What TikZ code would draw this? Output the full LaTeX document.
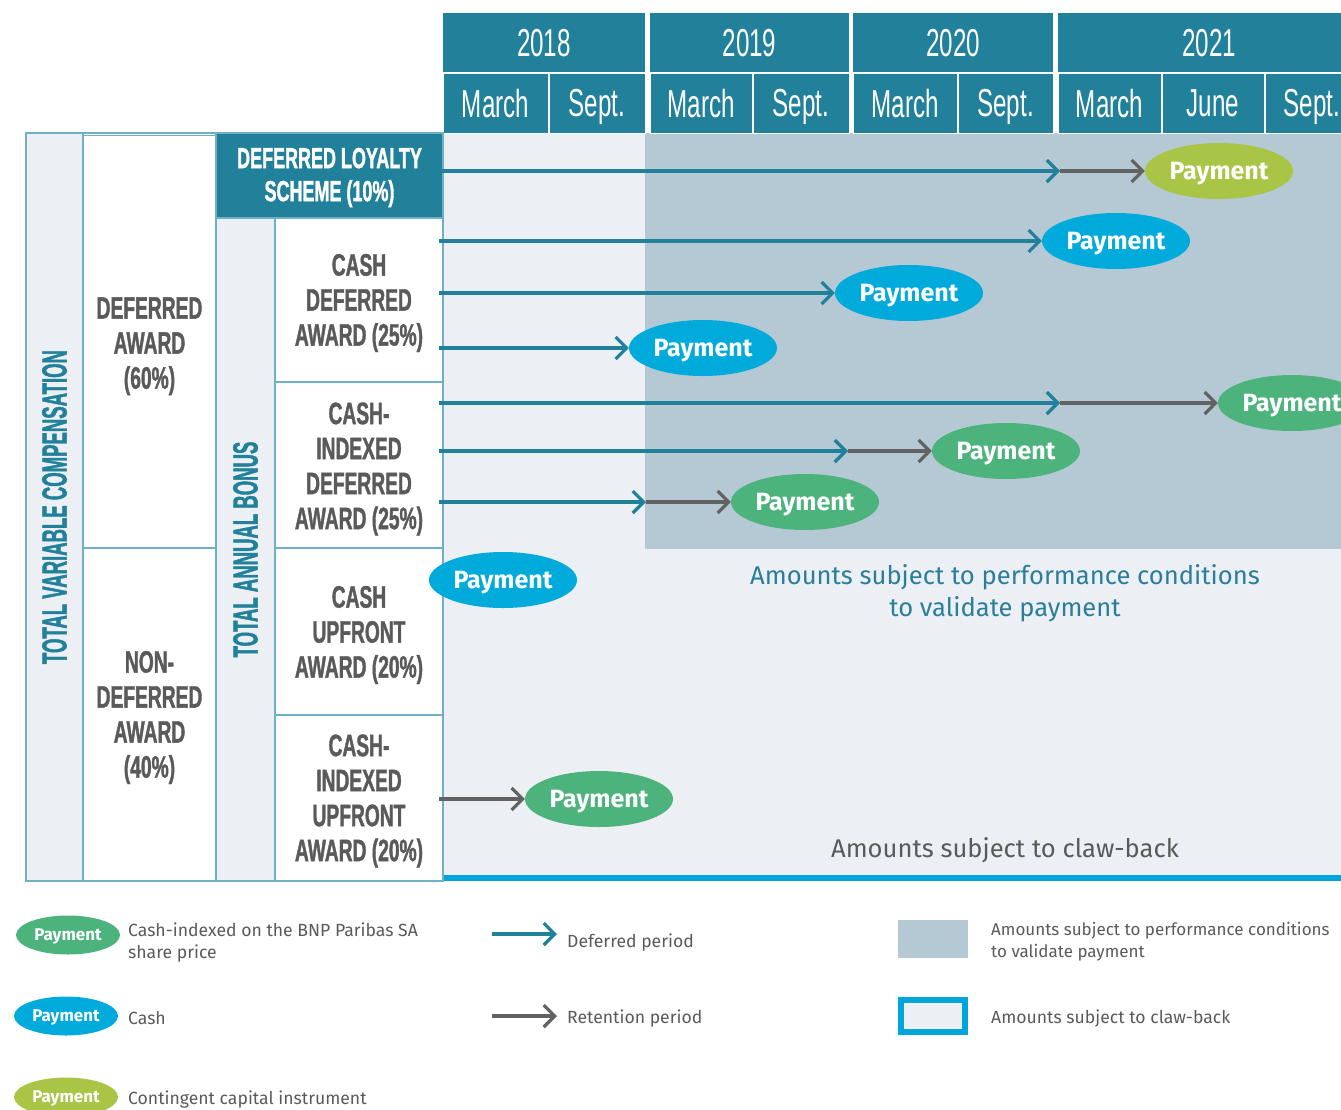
\documentclass[tikz,border=0pt]{standalone}
\usepackage{fontspec}
\setmainfont{Fira Sans}
\newfontfamily\condR[FakeStretch=0.62]{Liberation Sans}
\newfontfamily\condB[FakeStretch=0.62,FakeBold=1.2]{Liberation Sans Bold}
\newfontfamily\condBB[FakeStretch=0.53,FakeBold=1.2]{Liberation Sans Bold}
\usetikzlibrary{shapes.geometric,arrows.meta}
\definecolor{hdr}{HTML}{21819A}
\definecolor{lightbg}{HTML}{ECEFF4}
\definecolor{perfbg}{HTML}{B5C9D4}
\definecolor{cashblue}{HTML}{00AADB}
\definecolor{idxgreen}{HTML}{4BB37B}
\definecolor{cocolime}{HTML}{A8C545}
\definecolor{labgrey}{HTML}{5A5A5A}
\definecolor{bordercol}{HTML}{6FB0C4}
\definecolor{clawblue}{HTML}{00A6DB}
\definecolor{retgrey}{HTML}{626262}
\definecolor{perftext}{HTML}{2A7E9C}
\begin{document}
\begin{tikzpicture}[x=1pt,y=-1pt,
  yearcell/.style={rectangle, fill=hdr, text=white, inner sep=0pt, minimum height=60pt,
    text depth=0pt, font=\condR\fontsize{39}{39}\selectfont},
  monthcell/.style={yearcell, draw=white, line width=1pt},
  tabcell/.style={rectangle, draw=bordercol, line width=1.5pt, fill=white, inner sep=0pt,
    align=center, text=labgrey, font=\condB\fontsize{31}{35}\selectfont},
  sidecell/.style={tabcell, fill=lightbg, text=hdr, font=\condBB\fontsize{35}{35}\selectfont},
  pay/.style={ellipse, inner sep=0pt, minimum width=148pt, minimum height=56pt, text=white,
    text depth=0pt, font=\bfseries\fontsize{25}{25}\selectfont},
  legpay/.style={ellipse, inner sep=0pt, minimum width=104pt, minimum height=39pt, text=white,
    text depth=0pt, font=\bfseries\fontsize{17}{17}\selectfont},
  defarrow/.style={draw=hdr, line width=3.2pt, -{Straight Barb[length=11pt,width=22pt]}},
  retarrow/.style={draw=retgrey, line width=3.2pt, -{Straight Barb[length=11pt,width=22pt]}},
  legtext/.style={anchor=west, align=left, inner sep=0pt, text=labgrey,
    font=\fontsize{17.6}{22}\selectfont}
]
\useasboundingbox (0,0) rectangle (1341,1109);
\clip (0,0) rectangle (1341,1109);

% grid background
\fill[lightbg] (443,133) rectangle (1341,875);
\fill[perfbg] (645,133) rectangle (1341,549);
\fill[clawblue] (443,875) rectangle (1341,881);

% header
\node[yearcell, minimum width=202pt] (y2018) at (544,43) {2018};
\node[yearcell, minimum width=199pt] (y2019) at (749.5,43) {2019};
\node[yearcell, minimum width=200pt] (y2020) at (953,43) {2020};
\node[yearcell, minimum width=302pt] (y2021) at (1209,43) {2021};
\node[monthcell, minimum width=105pt] (m1) at (495.5,103) {March};
\node[monthcell, minimum width=96pt] (m2) at (597,103) {Sept.};
\node[monthcell, minimum width=102pt] (m3) at (701,103) {March};
\node[monthcell, minimum width=96pt] (m4) at (801,103) {Sept.};
\node[monthcell, minimum width=104pt] (m5) at (905,103) {March};
\node[monthcell, minimum width=95pt] (m6) at (1005.5,103) {Sept.};
\node[monthcell, minimum width=103pt] (m7) at (1109.5,103) {March};
\node[monthcell, minimum width=102pt] (m8) at (1213,103) {June};
\node[monthcell, minimum width=102pt] (m9) at (1316,103) {};
\node[yearcell, fill=none, minimum height=0pt] (m9t) at (1312,103) {Sept.};
\draw[white, line width=4pt] (647.5,13) -- (647.5,133);
\draw[white, line width=4pt] (851,13) -- (851,133);
\draw[white, line width=4pt] (1055.5,13) -- (1055.5,133);
\draw[white, line width=1.2pt] (443,73) -- (1341,73);

% left table
\node[sidecell, rotate=90, minimum width=748pt, minimum height=57pt] (tvc) at (54.5,507) {TOTAL VARIABLE COMPENSATION};
\node[tabcell, minimum width=133pt, minimum height=415pt, text depth=0pt] (defaward) at (149.5,343) {DEFERRED\\AWARD\\(60\%)};
\node[tabcell, minimum width=133pt, minimum height=333pt] (nondef) at (149.5,714.5) {};
\node[tabcell, draw=none, fill=none] (nondeft) at (149.5,717.5) {NON-\\DEFERRED\\AWARD\\(40\%)};
\node[tabcell, fill=hdr, text=white, minimum width=227pt, minimum height=85pt, font=\condB\fontsize{29}{33}\selectfont] (loyal) at (329.5,175.5) {};
\node[tabcell, draw=none, fill=none, text=white, font=\condB\fontsize{29}{33}\selectfont] (loyalt) at (329.5,177.5) {DEFERRED LOYALTY\\SCHEME (10\%)};
\node[sidecell, rotate=90, minimum width=663pt, minimum height=59pt] (tab) at (245.5,549.5) {TOTAL ANNUAL BONUS};
\node[tabcell, minimum width=168pt, minimum height=164pt] (cda) at (359,300) {};
\node[tabcell, draw=none, fill=none] (cdat) at (359,303) {CASH\\DEFERRED\\AWARD (25\%)};
\node[tabcell, minimum width=168pt, minimum height=166pt] (cida) at (359,465) {};
\node[tabcell, draw=none, fill=none] (cidat) at (359,469) {CASH-\\INDEXED\\DEFERRED\\AWARD (25\%)};
\node[tabcell, minimum width=168pt, minimum height=167pt] (cua) at (359,631.5) {};
\node[tabcell, draw=none, fill=none] (cuat) at (359,635) {CASH\\UPFRONT\\AWARD (20\%)};
\node[tabcell, minimum width=168pt, minimum height=166pt] (ciua) at (359,798) {};
\node[tabcell, draw=none, fill=none] (ciuat) at (359,801) {CASH-\\INDEXED\\UPFRONT\\AWARD (20\%)};
\draw[bordercol, line width=1.5pt] (83,133) rectangle (216,548);

% payments
\node[pay, fill=cocolime] (pl1) at (1219,171) {Payment};
\node[pay, fill=cashblue] (pc1) at (1116,241) {Payment};
\node[pay, fill=cashblue] (pc2) at (909,293) {Payment};
\node[pay, fill=cashblue] (pc3) at (703,348) {Payment};
\node[pay, fill=idxgreen] (pi1) at (1292,403) {Payment};
\node[pay, fill=idxgreen] (pi2) at (1006,451) {Payment};
\node[pay, fill=idxgreen] (pi3) at (805,502) {Payment};
\node[pay, fill=cashblue] (pu) at (503,580) {Payment};
\node[pay, fill=idxgreen] (piu) at (599,799) {Payment};

% arrow coordinates
\coordinate (s1) at (439,171); \coordinate (j1) at (1060,171);
\coordinate (s2) at (439,241);
\coordinate (s3) at (439,293);
\coordinate (s4) at (439,348);
\coordinate (s5) at (439,403); \coordinate (j5) at (1060,403);
\coordinate (s6) at (439,451); \coordinate (j6) at (848,451);
\coordinate (s7) at (439,502); \coordinate (j7) at (646,502);
\coordinate (s9) at (439,799);

\draw[defarrow] (s1) -- (j1); \draw[retarrow] (j1) -- (pl1.west);
\draw[defarrow] (s2) -- (pc1.west);
\draw[defarrow] (s3) -- (pc2.west);
\draw[defarrow] (s4) -- (pc3.west);
\draw[defarrow] (s5) -- (j5); \draw[retarrow] (j5) -- (pi1.west);
\draw[defarrow] (s6) -- (j6); \draw[retarrow] (j6) -- (pi2.west);
\draw[defarrow] (s7) -- (j7); \draw[retarrow] (j7) -- (pi3.west);
\draw[retarrow] (s9) -- (piu.west);

% grid texts
\node[align=center, text=perftext, font=\fontsize{25.6}{32}\selectfont] (perf) at (1005,593) {Amounts subject to performance conditions\\to validate payment};
\node[text=labgrey, font=\fontsize{25.6}{25}\selectfont] (claw) at (1005,850) {Amounts subject to claw-back};

% legend
\node[legpay, fill=idxgreen] (lg1) at (68,935) {Payment};
\node[legtext] (lt1) at (128,942) {Cash-indexed on the BNP Paribas SA\\share price};
\node[legpay, fill=cashblue] (lg2) at (66,1016) {Payment};
\node[legtext] (lt2) at (128,1018) {Cash};
\node[legpay, fill=cocolime] (lg3) at (66,1097) {Payment};
\node[legtext] (lt3) at (128,1099) {Contingent capital instrument};

\coordinate (la1) at (492,934); \coordinate (lb1) at (557,934);
\draw[defarrow] (la1) -- (lb1);
\node[legtext] (lt4) at (567,942) {Deferred period};
\coordinate (la2) at (492,1016); \coordinate (lb2) at (557,1016);
\draw[retarrow] (la2) -- (lb2);
\node[legtext] (lt5) at (567,1018) {Retention period};

\node[rectangle, fill=perfbg, minimum width=70pt, minimum height=38pt, inner sep=0pt] (lr1) at (933,939) {};
\node[legtext, font=\fontsize{17}{22}\selectfont] (lt6) at (991,942) {Amounts subject to performance conditions\\to validate payment};
\node[rectangle, fill=lightbg, draw=clawblue, line width=6pt, minimum width=64pt, minimum height=32pt, inner sep=0pt] (lr2) at (933,1016) {};
\node[legtext] (lt7) at (991,1018) {Amounts subject to claw-back};
\end{tikzpicture}
\end{document}
